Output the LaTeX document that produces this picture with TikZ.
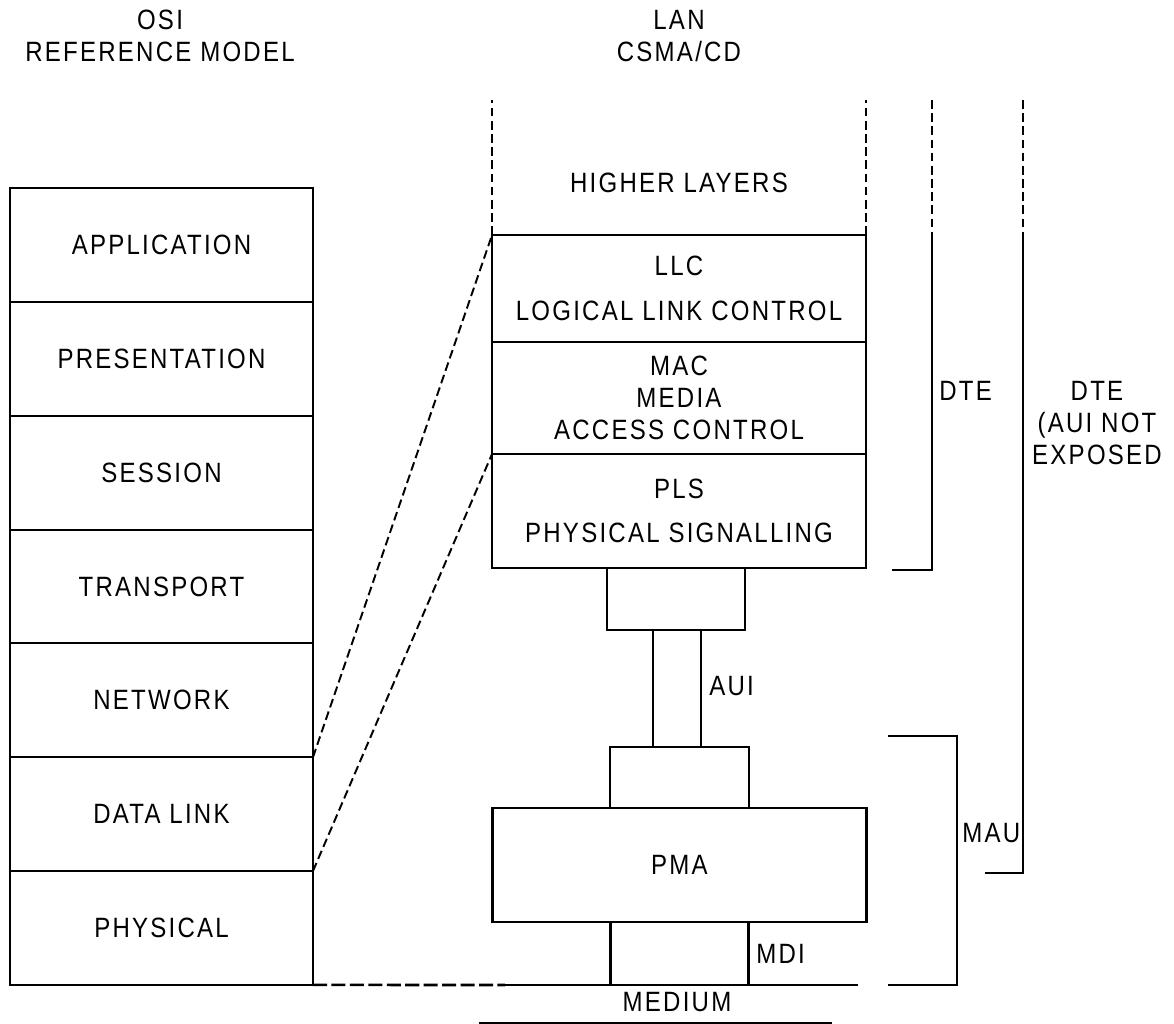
\documentclass[tikz,border=0pt]{standalone}
\usepackage{fontspec}
\setmainfont{Liberation Sans}[FakeStretch=0.86, LetterSpace=8]
\usetikzlibrary{positioning}
\tikzset{
  layernode/.style = {draw, line width=1.2pt, inner sep=0pt, outer sep=0pt,
    align=center, minimum width=6.06cm, minimum height=2.277cm},
  lannode/.style = {layernode, minimum width=7.48cm},
  portnode/.style = {layernode, minimum width=2.77cm, minimum height=1.25cm},
  textnode/.style = {inner sep=0pt, align=center},
  dashline/.style = {dashed, line width=1.1pt, dash pattern=on 5pt off 2.5pt},
  bracket/.style = {line width=1.5pt},
}

\begin{document}
\begin{tikzpicture}[x=0.02cm, y=-0.02cm, font=\fontsize{15.9}{18.4}\selectfont]
  \useasboundingbox (0,0) rectangle (1174,1024);
  \node [textnode] (osititle) at (160,36) {OSI\\REFERENCE MODEL};
  \node [textnode] (lantitle) at (679,36) {LAN\\CSMA/CD};

  \node [layernode] (app) at (161.5,245) {APPLICATION};
  \node [layernode, below=0pt of app] (pres) {PRESENTATION};
  \node [layernode, below=0pt of pres] (sess) {SESSION};
  \node [layernode, below=0pt of sess] (trans) {TRANSPORT};
  \node [layernode, below=0pt of trans] (net) {NETWORK};
  \node [layernode, below=0pt of net] (dlink) {DATA LINK};
  \node [layernode, below=0pt of dlink] (phys) {PHYSICAL};

  \node [lannode, minimum height=2.14cm] (llc) at (679,288.5)
    {LLC\\[7pt] LOGICAL LINK CONTROL};
  \node [lannode, minimum height=2.24cm, below=0pt of llc] (mac)
    {MAC\\ MEDIA\\ ACCESS CONTROL};
  \node [lannode, minimum height=2.28cm, below=0pt of mac] (pls)
    {PLS\\[7pt] PHYSICAL SIGNALLING};
  \node [textnode] (higher) at (679,183) {HIGHER LAYERS};
  \draw [dashline, line width=1.4pt] (llc.north west) -- ++(0,-135);
  \draw [dashline, line width=1.4pt] (llc.north east) -- ++(0,-135);

  \node [portnode] (dteport) at (676,599) {};
  \node [portnode, minimum height=1.22cm] (mauport) at (679.5,777.5) {};
  \node [lannode, minimum height=2.28cm, below=0pt of mauport] (pma) {PMA};
  \draw [line width=1.2pt] ([xshift=-0.46cm]dteport.south)
    -- ([xshift=-0.46cm]dteport.south |- mauport.north);
  \draw [line width=1.2pt] ([xshift=0.5cm]dteport.south)
    -- ([xshift=0.5cm]dteport.south |- mauport.north);
  \node [textnode, anchor=west] (aui) at (709,686) {AUI};

  \coordinate (medmid) at (505,985);
  \coordinate (medend) at (858,985);
  \draw [line width=1.5pt, dashed, dash pattern=on 8pt off 2.5pt] (phys.south east) -- (medmid);
  \draw [line width=1.2pt] (medmid) -- (medend);
  \draw [line width=1.2pt] ([xshift=-1.38cm]pma.south) -- ([xshift=-1.38cm]pma.south |- medend);
  \draw [line width=1.2pt] ([xshift=1.38cm]pma.south) -- ([xshift=1.38cm]pma.south |- medend);
  \node [textnode, anchor=west] (mdi) at (756,954) {MDI};
  \node [textnode] (medium) at (677,1002) {MEDIUM};
  \draw [line width=1.2pt] (479,1023) -- (832,1023);

  \draw [dashline] (dlink.north east) -- (llc.north west);
  \draw [dashline] (phys.north east) -- (pls.north west);

  \draw [dashline, line width=1.5pt] (932,100) -- (932,236);
  \draw [bracket] (932,236) -- (932,570) -- (892,570);
  \node [textnode, anchor=west] (dte) at (939,391) {DTE};

  \draw [dashline, line width=1.5pt] (1023,100) -- (1023,236);
  \draw [bracket] (1023,236) -- (1023,873) -- (985,873);
  \node [textnode] (dtefull) at (1097,423) {DTE\\(AUI NOT\\EXPOSED};

  \draw [bracket] (888,736) -- (957,736) -- (957,985) -- (888,985);
  \node [textnode, anchor=west] (mau) at (962,833) {MAU};
\end{tikzpicture}
\end{document}
